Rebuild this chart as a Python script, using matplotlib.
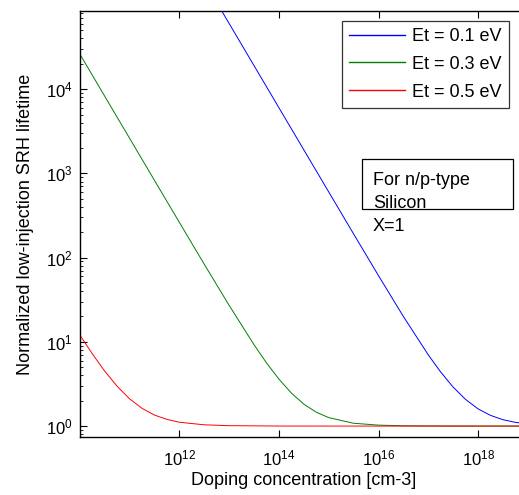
import numpy as np
import matplotlib
matplotlib.use("Agg")
import matplotlib.pyplot as plt
from matplotlib.ticker import LogLocator, NullFormatter, NullLocator
from matplotlib.patches import Rectangle

plt.rcParams['font.family'] = ['Liberation Sans', 'DejaVu Sans']
plt.rcParams['mathtext.fontset'] = 'custom'
plt.rcParams['mathtext.rm'] = 'Liberation Sans'
plt.rcParams['mathtext.it'] = 'Liberation Sans:italic'
plt.rcParams['mathtext.bf'] = 'Liberation Sans:bold'

# doping concentration (cm-3) and normalized lifetime
doping = [1e10, 1.78e10, 3.16e10, 5.62e10, 1e11, 1.78e11, 3.16e11, 5.62e11,
          1e12, 3.16e12, 1e13, 1e14, 1e15, 1e16, 1e17, 1e18, 1e19]
tau_05 = [12.0, 7.19, 4.48, 2.96, 2.10, 1.62, 1.35, 1.20,
          1.11, 1.035, 1.011, 1.001, 1.0, 1.0, 1.0, 1.0, 1.0]

doping_03 = [1e10, 3.16e10, 1e11, 3.16e11, 1e12, 3.16e12, 1e13, 3.16e13, 5.62e13,
             1e14, 1.78e14, 3.16e14, 5.62e14, 1e15, 3.16e15, 1e16, 3.16e16,
             1e17, 1e18, 1e19]
tau_03 = [26000, 8220, 2600, 823, 261, 83.2, 27.0, 9.22, 5.62,
          3.60, 2.46, 1.82, 1.46, 1.26, 1.08, 1.026, 1.008,
          1.003, 1.0, 1.0]

doping_01 = [3.16e12, 1e13, 3.16e13, 1e14, 3.16e14, 1e15, 3.16e15, 1e16, 3.16e16,
             1e17, 1.78e17, 3.16e17, 5.62e17, 1e18, 1.78e18, 3.16e18, 5.62e18, 1e19]
tau_01 = [190000, 60000, 18980, 6000, 1900, 601, 191, 61.0, 20.0,
          7.0, 4.37, 2.90, 2.07, 1.60, 1.34, 1.19, 1.107, 1.06]

colors = [(0, 0, 1), (0, 0.5, 0), (1, 0, 0)]

fig = plt.figure(figsize=(5.19, 4.95), dpi=100)
ax = fig.add_axes([0.154, 0.117, 0.863, 0.861])

ax.loglog(doping_01, tau_01, color=colors[0], lw=0.7, label='Et = 0.1 eV')
ax.loglog(doping_03, tau_03, color=colors[1], lw=0.7, label='Et = 0.3 eV')
ax.loglog(doping, tau_05, color=colors[2], lw=0.7, label='Et = 0.5 eV')

ax.set_xlim(1e10, 1e19)
ax.set_ylim(0.74, 8.5e4)
ax.set_xticks([1e12, 1e14, 1e16, 1e18])
ax.xaxis.set_minor_locator(NullLocator())
ax.yaxis.set_major_locator(LogLocator(base=10, numticks=10))
ax.yaxis.set_minor_locator(LogLocator(base=10, subs=np.arange(2, 10), numticks=20))
ax.yaxis.set_minor_formatter(NullFormatter())
ax.tick_params(which='both', direction='in', top=True, right=True, labelsize=12)
ax.tick_params(which='major', length=5, width=0.8)
ax.tick_params(which='minor', length=2.5, width=0.6)
ax.tick_params(axis='x', which='major', pad=8)
ax.tick_params(axis='y', which='major', pad=5)
for s in ax.spines.values():
    s.set_linewidth(1.0)

ax.set_xlabel('Doping concentration [cm-3]', fontsize=13, labelpad=3)
ax.set_ylabel('Normalized low-injection SRH lifetime', fontsize=13, labelpad=9)

leg = ax.legend(loc='upper left', bbox_to_anchor=(0.585, 0.977), fontsize=13,
                frameon=True, fancybox=False, edgecolor='black',
                handlelength=3.1, labelspacing=0.6, borderpad=0.4,
                handletextpad=0.4, borderaxespad=0)
leg.get_frame().set_linewidth(0.9)
for line, c in zip(leg.get_lines(), colors):
    line.set_color(c)
    line.set_linewidth(1.0)

# text box (MATLAB style, last line falls outside the box)
ax.add_patch(Rectangle((0.629, 0.535), 0.339, 0.117, transform=ax.transAxes,
                       fill=False, edgecolor='black', lw=0.9, clip_on=False))
ax.text(0.654, 0.621, 'For n/p-type\nSilicon\nX=1', transform=ax.transAxes,
        fontsize=13, va='top', ha='left', linespacing=1.45)

fig.savefig('out.png', dpi=100)
